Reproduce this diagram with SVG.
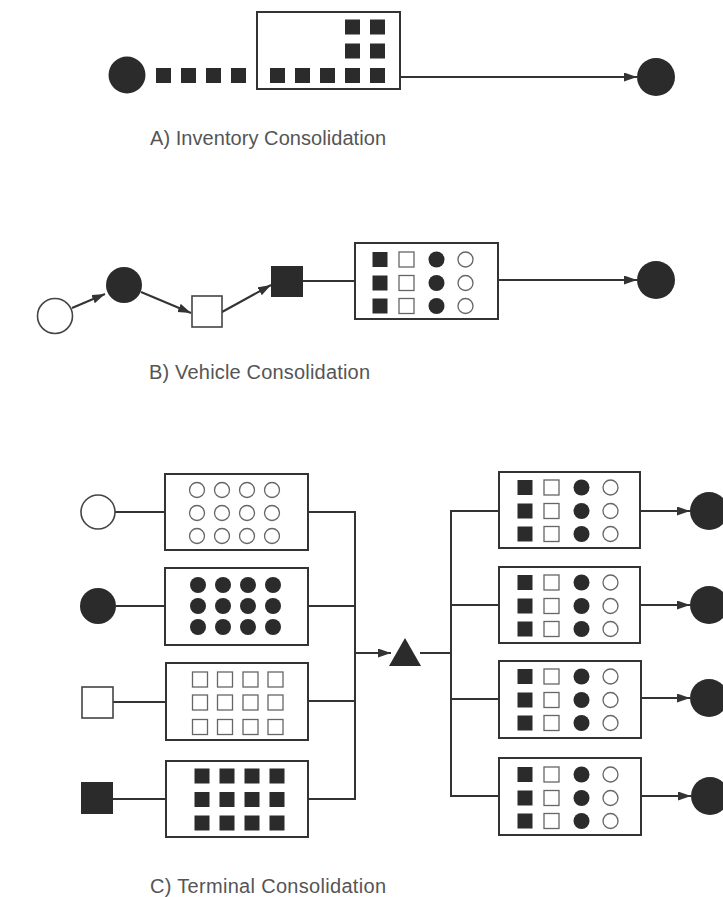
<svg xmlns="http://www.w3.org/2000/svg" xmlns:xlink="http://www.w3.org/1999/xlink" width="723" height="897" viewBox="0 0 723 897">
<style>
.bg{fill:#ffffff}
.box{fill:#ffffff;stroke:#333;stroke-width:2}
.ln{fill:none;stroke:#333;stroke-width:2}
.fill{fill:#2b2b2b}
.open{fill:#ffffff;stroke:#444;stroke-width:1.6}
.sm{fill:#ffffff;stroke:#666;stroke-width:1.3}
.lbl{font-family:"Liberation Sans",Arial,sans-serif;font-size:20px;fill:#555}
</style>
<defs>
<marker id="arr" markerUnits="userSpaceOnUse" markerWidth="14" markerHeight="10" refX="13" refY="4.5" orient="auto">
<path d="M0,0 L13,4.5 L0,9 Z" fill="#333"/>
</marker>
<rect id="sqF" x="-7.5" y="-7.5" width="15" height="15" class="fill"/>
<rect id="sqO" x="-7.5" y="-7.5" width="15" height="15" class="sm"/>
<circle id="ciF" r="8" class="fill"/>
<circle id="ciO" r="7.5" class="sm"/>
<g id="mixRow">
<use xlink:href="#sqF" x="26"/>
<use xlink:href="#sqO" x="52.5"/>
<use xlink:href="#ciF" x="82.5"/>
<use xlink:href="#ciO" x="111.5"/>
</g>
<g id="mix">
<use xlink:href="#mixRow" y="15.5"/>
<use xlink:href="#mixRow" y="39"/>
<use xlink:href="#mixRow" y="62"/>
</g>
</defs>
<rect class="bg" x="0" y="0" width="723" height="897"/>

<g id="connectors">
<!-- A -->
<line class="ln" x1="400" y1="77" x2="637" y2="77" marker-end="url(#arr)"/>
<!-- B -->
<line class="ln" x1="72" y1="308" x2="105" y2="294" marker-end="url(#arr)"/>
<line class="ln" x1="141" y1="292" x2="191" y2="313" marker-end="url(#arr)"/>
<line class="ln" x1="222" y1="312" x2="271" y2="285" marker-end="url(#arr)"/>
<line class="ln" x1="303" y1="281" x2="355" y2="281"/>
<line class="ln" x1="498" y1="280" x2="637" y2="280" marker-end="url(#arr)"/>
<!-- C left -->
<line class="ln" x1="115" y1="512" x2="165" y2="512"/>
<line class="ln" x1="116" y1="606" x2="165" y2="606"/>
<line class="ln" x1="113" y1="702" x2="166" y2="702"/>
<line class="ln" x1="113" y1="799" x2="165" y2="799"/>
<path class="ln" d="M308,512 H355 V799 H308"/>
<line class="ln" x1="308" y1="606" x2="355" y2="606"/>
<line class="ln" x1="308" y1="701" x2="355" y2="701"/>
<line class="ln" x1="355" y1="653" x2="391" y2="653" marker-end="url(#arr)"/>
<!-- C right -->
<line class="ln" x1="420" y1="653" x2="451" y2="653"/>
<path class="ln" d="M499,511 H451 V796 H499"/>
<line class="ln" x1="451" y1="605" x2="499" y2="605"/>
<line class="ln" x1="451" y1="699" x2="499" y2="699"/>
<line class="ln" x1="640" y1="511" x2="690" y2="511" marker-end="url(#arr)"/>
<line class="ln" x1="640" y1="605" x2="690" y2="605" marker-end="url(#arr)"/>
<line class="ln" x1="641" y1="698" x2="690" y2="698" marker-end="url(#arr)"/>
<line class="ln" x1="641" y1="796" x2="691" y2="796" marker-end="url(#arr)"/>
</g>

<!-- Section A -->
<g id="a-source"><circle cx="127" cy="75" r="18.5" class="fill"/></g>
<g id="a-queue">
<rect x="156" y="68" width="15" height="15" class="fill"/>
<rect x="181" y="68" width="15" height="15" class="fill"/>
<rect x="206" y="68" width="15" height="15" class="fill"/>
<rect x="231" y="68" width="15" height="15" class="fill"/>
</g>
<g id="a-box">
<rect x="257" y="12" width="143" height="77" class="box"/>
<rect x="270" y="68" width="15" height="15" class="fill"/>
<rect x="295" y="68" width="15" height="15" class="fill"/>
<rect x="320" y="68" width="15" height="15" class="fill"/>
<rect x="345" y="68" width="15" height="15" class="fill"/>
<rect x="370" y="68" width="15" height="15" class="fill"/>
<rect x="345" y="19.5" width="15" height="15" class="fill"/>
<rect x="370" y="19.5" width="15" height="15" class="fill"/>
<rect x="345" y="43.5" width="15" height="15" class="fill"/>
<rect x="370" y="43.5" width="15" height="15" class="fill"/>
</g>
<g id="a-dest"><circle cx="656" cy="77" r="19" class="fill"/></g>
<text class="lbl" x="150" y="145" textLength="236" lengthAdjust="spacing">A) Inventory Consolidation</text>

<!-- Section B -->
<g id="b-n1"><circle cx="55" cy="316" r="17.5" class="open"/></g>
<g id="b-n2"><circle cx="124" cy="285" r="18" class="fill"/></g>
<g id="b-n3"><rect x="192" y="296" width="30" height="31" class="open"/></g>
<g id="b-n4"><rect x="271" y="266" width="32" height="31" class="fill"/></g>
<g id="b-box">
<rect x="355" y="243" width="143" height="76" class="box"/>
<use xlink:href="#mix" x="354" y="244"/>
</g>
<g id="b-dest"><circle cx="656" cy="280" r="19" class="fill"/></g>
<text class="lbl" x="149" y="379" textLength="221" lengthAdjust="spacing">B) Vehicle Consolidation</text>

<!-- Section C left sources -->
<g id="c-s1"><circle cx="98" cy="512" r="17" class="open"/></g>
<g id="c-s2"><circle cx="98" cy="606" r="18" class="fill"/></g>
<g id="c-s3"><rect x="82" y="687" width="31" height="31" class="open"/></g>
<g id="c-s4"><rect x="81" y="782" width="32" height="32" class="fill"/></g>

<!-- Section C left boxes -->
<g id="c-lb1">
<rect x="165" y="474" width="143" height="76" class="box"/>
<g transform="translate(0,474)">
<use xlink:href="#ciO" x="197" y="16"/><use xlink:href="#ciO" x="222" y="16"/><use xlink:href="#ciO" x="247" y="16"/><use xlink:href="#ciO" x="272" y="16"/>
<use xlink:href="#ciO" x="197" y="39"/><use xlink:href="#ciO" x="222" y="39"/><use xlink:href="#ciO" x="247" y="39"/><use xlink:href="#ciO" x="272" y="39"/>
<use xlink:href="#ciO" x="197" y="62"/><use xlink:href="#ciO" x="222" y="62"/><use xlink:href="#ciO" x="247" y="62"/><use xlink:href="#ciO" x="272" y="62"/>
</g>
</g>
<g id="c-lb2">
<rect x="165" y="568" width="143" height="77" class="box"/>
<g transform="translate(0,568)">
<use xlink:href="#ciF" x="198" y="17"/><use xlink:href="#ciF" x="223" y="17"/><use xlink:href="#ciF" x="248" y="17"/><use xlink:href="#ciF" x="273" y="17"/>
<use xlink:href="#ciF" x="198" y="38"/><use xlink:href="#ciF" x="223" y="38"/><use xlink:href="#ciF" x="248" y="38"/><use xlink:href="#ciF" x="273" y="38"/>
<use xlink:href="#ciF" x="198" y="59"/><use xlink:href="#ciF" x="223" y="59"/><use xlink:href="#ciF" x="248" y="59"/><use xlink:href="#ciF" x="273" y="59"/>
</g>
</g>
<g id="c-lb3">
<rect x="166" y="663" width="142" height="77" class="box"/>
<g transform="translate(0,663)">
<use xlink:href="#sqO" x="200" y="16.5"/><use xlink:href="#sqO" x="225" y="16.5"/><use xlink:href="#sqO" x="250.5" y="16.5"/><use xlink:href="#sqO" x="275.5" y="16.5"/>
<use xlink:href="#sqO" x="200" y="39.5"/><use xlink:href="#sqO" x="225" y="39.5"/><use xlink:href="#sqO" x="250.5" y="39.5"/><use xlink:href="#sqO" x="275.5" y="39.5"/>
<use xlink:href="#sqO" x="200" y="64"/><use xlink:href="#sqO" x="225" y="64"/><use xlink:href="#sqO" x="250.5" y="64"/><use xlink:href="#sqO" x="275.5" y="64"/>
</g>
</g>
<g id="c-lb4">
<rect x="166" y="761" width="142" height="76" class="box"/>
<g transform="translate(0,761)">
<use xlink:href="#sqF" x="202" y="15"/><use xlink:href="#sqF" x="227" y="15"/><use xlink:href="#sqF" x="252" y="15"/><use xlink:href="#sqF" x="277" y="15"/>
<use xlink:href="#sqF" x="202" y="38.5"/><use xlink:href="#sqF" x="227" y="38.5"/><use xlink:href="#sqF" x="252" y="38.5"/><use xlink:href="#sqF" x="277" y="38.5"/>
<use xlink:href="#sqF" x="202" y="62"/><use xlink:href="#sqF" x="227" y="62"/><use xlink:href="#sqF" x="252" y="62"/><use xlink:href="#sqF" x="277" y="62"/>
</g>
</g>

<!-- Terminal -->
<g id="c-terminal"><polygon points="405,638 421,666 389,666" class="fill"/></g>

<!-- Section C right boxes -->
<g id="c-rb1"><rect x="499" y="472" width="141" height="76" class="box"/><use xlink:href="#mix" x="499" y="472"/></g>
<g id="c-rb2"><rect x="499" y="567" width="141" height="76" class="box"/><use xlink:href="#mix" x="499" y="567"/></g>
<g id="c-rb3"><rect x="499" y="661" width="142" height="77" class="box"/><use xlink:href="#mix" x="499" y="661"/></g>
<g id="c-rb4"><rect x="499" y="758" width="142" height="77" class="box"/><use xlink:href="#mix" x="499" y="759"/></g>

<!-- Section C destinations -->
<g id="c-d1"><circle cx="709" cy="511" r="19" class="fill"/></g>
<g id="c-d2"><circle cx="709" cy="605" r="19" class="fill"/></g>
<g id="c-d3"><circle cx="709" cy="698" r="19" class="fill"/></g>
<g id="c-d4"><circle cx="710" cy="796" r="19" class="fill"/></g>

<text class="lbl" x="150" y="893" textLength="236" lengthAdjust="spacing">C) Terminal Consolidation</text>
</svg>
